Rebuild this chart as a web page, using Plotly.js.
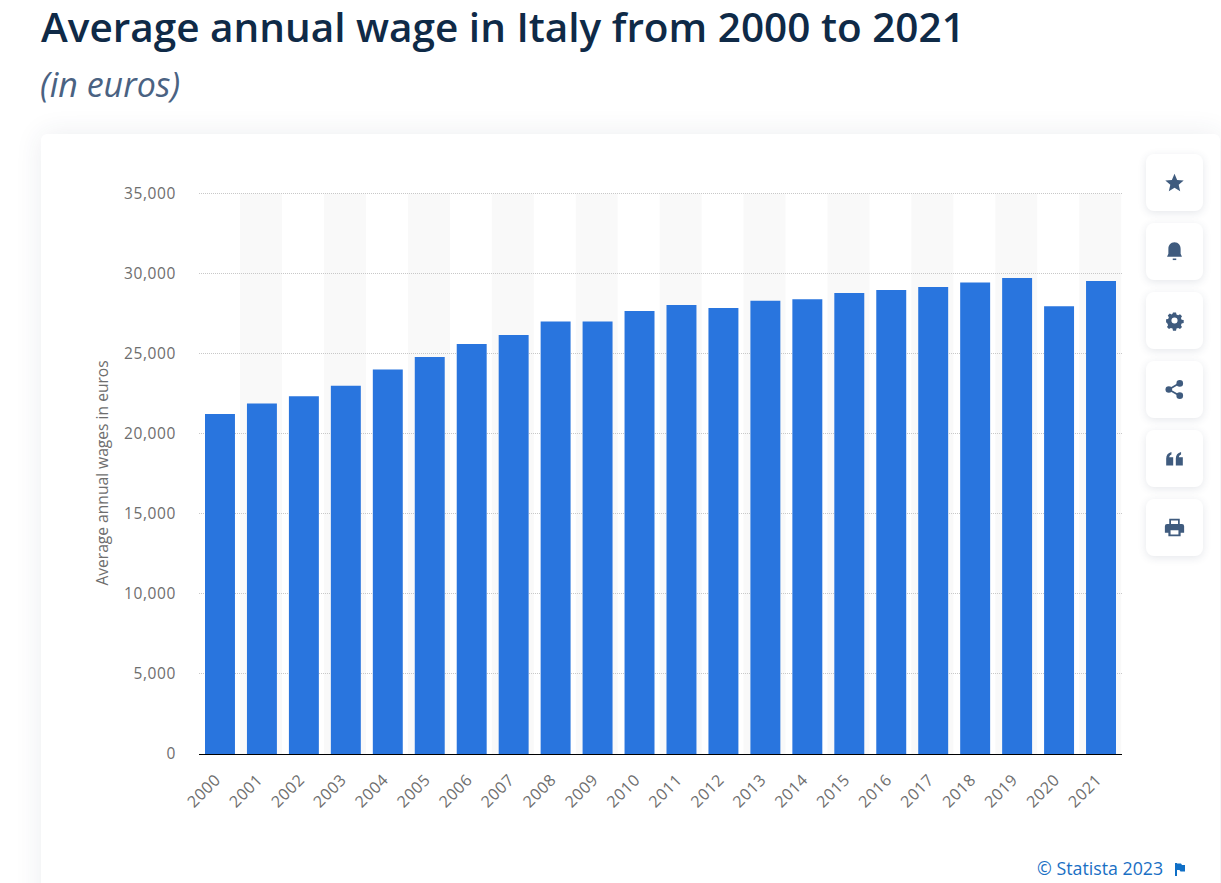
<!DOCTYPE html>
<html>
<head>
<meta charset="utf-8">
<title>Average annual wage in Italy</title>
<script src="https://cdn.plot.ly/plotly-3.0.1.min.js"></script>
<style>
  html, body { margin: 0; padding: 0; width: 1221px; height: 883px; overflow: hidden; background: #fff; }
  #card { position: absolute; left: 41px; top: 134px; width: 1179px; height: 800px; background: #fff;
          border-radius: 6px; box-shadow: 0 0 28px rgba(40, 60, 90, 0.09); }
  #myDiv { position: absolute; left: 0; top: 0; width: 1221px; height: 883px; }
  #myDiv .xtick text, #myDiv .ytick text { letter-spacing: 0.6px; }
  .btn { position: absolute; left: 1146px; width: 57px; height: 57px; background: #fff; border-radius: 8px;
         box-shadow: 0 2px 9px rgba(40, 60, 90, 0.12); }
  .btn svg { position: absolute; left: 18px; top: 18px; width: 21px; height: 21px; fill: #3f5b7e; }
  #flag { position: absolute; left: 1175px; top: 863px; width: 10px; height: 13px; fill: #0f6fc6; }
</style>
</head>
<body>
<div id="card"></div>
<div id="myDiv"></div>

<div class="btn" style="top:154px"><svg viewBox="0 0 24 24"><path d="M12 2l3 7 7.500 .7-5.700 4.900 1.700 7.400L12 18l-6.500 4 1.700-7.400L1.500 9.700 9 9z"/></svg></div>
<div class="btn" style="top:223px"><svg viewBox="0 0 24 24"><path d="M12 1.500c4.500 0 7 3.500 7 7.500v5.500l1.500 3.500h-17L5 14.500V9c0-4 2.500-7.500 7-7.500z"/><rect x="10" y="20" width="4" height="1.800"/></svg></div>
<div class="btn" style="top:292px"><svg viewBox="0 0 24 24"><g transform="translate(1.500 1.500) scale(.875)"><path fill-rule="evenodd" d="M10 2h4l.6 2.700 2.200.9 2.400-1.400 2.600 2.800-1.400 2.300.9 2.200 2.700.5v3.800l-2.700.6-.9 2.200 1.400 2.400-2.600 2.600-2.400-1.400-2.200.9-.6 2.700h-4l-.6-2.700-2.200-.9-2.400 1.400-2.600-2.600 1.400-2.400-.9-2.200L1 14.800V11l2.700-.5.900-2.200-1.400-2.300L5.800 3.200l2.400 1.400 1.200-.9zM12 8.500a4 4 0 1 0 0 8 4 4 0 0 0 0-8z" transform="translate(0 -.5)"/></g></svg></div>
<div class="btn" style="top:361px"><svg viewBox="0 0 24 24"><circle cx="18" cy="5" r="3.800"/><circle cx="18" cy="19" r="3.800"/><circle cx="5.500" cy="12" r="3.800"/><path d="M5 11l12-7 1 1.800-12 7zM6 11l12 7-1 1.800-12-7z"/></svg></div>
<div class="btn" style="top:430px"><svg viewBox="0 0 24 24"><path d="M2.500 12c0-4 2-6.500 6-7.500v3C7 8 6.300 9 6 10.500h4.500V20h-8zM13.500 12c0-4 2-6.500 6-7.500v3C18 8 17.300 9 17 10.500h4.500V20h-8z"/></svg></div>
<div class="btn" style="top:499px"><svg viewBox="0 0 24 24"><path fill-rule="evenodd" d="M6 2h12v6h2.500A2.500 2.500 0 0 1 23 10.500V18h-4v4H5v-4H1v-7.500A2.500 2.500 0 0 1 3.500 8H6zM8 4v4h8V4zM7.500 15v5h9v-5z"/></svg></div>
<svg id="flag" viewBox="0 0 10 13"><path d="M0 0h2v13H0zM2 .5h4l1 1.500h3v6.500H5.500L4.500 7H2z"/></svg>

<script>
var years = ["2000", "2001", "2002", "2003", "2004", "2005", "2006", "2007", "2008", "2009", "2010",
             "2011", "2012", "2013", "2014", "2015", "2016", "2017", "2018", "2019", "2020", "2021"];
var wages = [21230, 21890, 22340, 23000, 24010, 24790, 25610, 26170, 27010, 27010, 27670,
             28040, 27860, 28310, 28400, 28790, 28980, 29160, 29450, 29730, 27970, 29540];
var yTicks = [0, 5000, 10000, 15000, 20000, 25000, 30000, 35000];

var titleText = "Average annual wage in Italy from 2000 to 2021";
var subtitleText = "(in euros)";
var yAxisText = "Average annual wages in euros";
var creditText = "© Statista 2023";

var fontName = '"Open Sans", sans-serif';
var yMax = 35100;
var bandTop = 35000;

// grey background band behind every second year, paper ref keeps it under the gridlines
var bands = [];
for (var i = 1; i < years.length; i += 2) {
  bands.push({
    type: "rect", layer: "below", xref: "x", yref: "paper",
    x0: i - 0.52, x1: i + 0.48, y0: 0, y1: bandTop / yMax,
    fillcolor: "#f9f9f9", line: { width: 0 }
  });
}

var data = [{
  type: "bar",
  x: years,
  y: wages,
  width: 0.714,
  marker: { color: "#2975de", line: { width: 0 } },
  hoverinfo: "x+y"
}];

var layout = {
  width: 1221,
  height: 883,
  margin: { l: 199, r: 99, t: 191.9, b: 128.5, pad: 0 },
  paper_bgcolor: "rgba(0,0,0,0)",
  plot_bgcolor: "rgba(0,0,0,0)",
  showlegend: false,
  font: { family: fontName, color: "#6e6e6e" },
  title: {
    text: titleText,
    font: { family: fontName, size: 40.5, weight: 600, color: "#0f2a47" },
    xref: "container", yref: "container", xanchor: "left", yanchor: "middle",
    x: 0.0336, y: 0.9683
  },
  xaxis: {
    type: "category",
    categoryorder: "array",
    categoryarray: years,
    range: [-0.5, 21.5],
    showgrid: false,
    showline: true,
    linecolor: "#000000",
    linewidth: 1,
    ticks: "",
    tickangle: -45,
    ticklabelstandoff: 9,
    ticklabelshift: -4,
    tickfont: { family: fontName, size: 16, color: "#6e6e6e" }
  },
  yaxis: {
    range: [0, yMax],
    tickmode: "array",
    tickvals: yTicks,
    tickformat: ",d",
    showgrid: true,
    gridcolor: "#c8c8c8",
    griddash: "1px,1px",
    gridwidth: 1,
    zeroline: false,
    showline: false,
    ticks: "",
    ticklabelstandoff: 22,
    tickfont: { family: fontName, size: 15.5, color: "#6e6e6e" },
    title: { text: yAxisText, standoff: 15, font: { family: fontName, size: 15.6, color: "#6e6e6e" } }
  },
  shapes: bands,
  annotations: [
    {
      text: subtitleText, showarrow: false,
      xref: "paper", yref: "paper", xanchor: "left", yanchor: "middle",
      x: -0.1745, y: 1.1913,
      font: { family: fontName, size: 34, style: "italic", color: "#4a6282" }
    },
    {
      text: creditText, showarrow: false,
      xref: "paper", yref: "paper", xanchor: "right", yanchor: "middle",
      x: 1.0465, y: -0.2025,
      font: { family: fontName, size: 17.8, color: "#1a6fc4" }
    }
  ],
  bargap: 0.286
};

Plotly.newPlot("myDiv", data, layout, { displayModeBar: false, responsive: false });
</script>
</body>
</html>
